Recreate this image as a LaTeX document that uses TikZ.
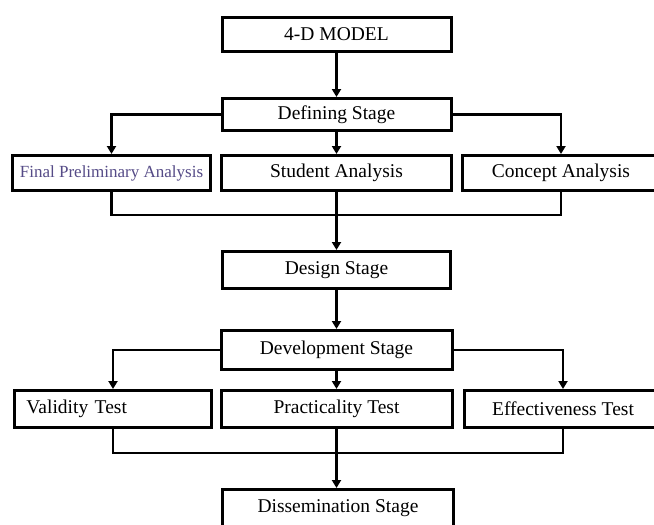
\documentclass[tikz,border=0pt]{standalone}
\usepackage{fontspec}
\setmainfont{Liberation Serif}
\usetikzlibrary{arrows.meta}
\definecolor{fpacol}{RGB}{85,75,135}
\tikzset{
  box/.style={draw=black, line width=3pt, fill=white, inner sep=0pt,
    font=\fontsize{19.5}{21}\selectfont, text=black},
  conn/.style={line width=2.6pt, draw=black},
  arr/.style={conn, -{Triangle[width=9pt,length=8pt]}},
}
\begin{document}
\begin{tikzpicture}[x=1pt,y=-1pt]
\useasboundingbox (0,0) rectangle (654,525);
\node[box, minimum width=229pt, minimum height=34pt] (model) at (336.5,34.5) {4-D MODEL};
\node[box, minimum width=229pt, minimum height=32pt] (define) at (336.5,114.5) {Defining Stage};
\node[box, minimum width=198pt, minimum height=35pt, text=fpacol,
      font=\fontsize{17}{19}\selectfont] (fpa) at (111.5,173) {Final Preliminary Analysis};
\node[box, minimum width=230pt, minimum height=35pt] (student) at (336.5,173) {Student Analysis};
\node[box, minimum width=197pt, minimum height=35pt] (concept) at (561,173) {Concept Analysis};
\node[box, minimum width=228pt, minimum height=37pt] (design) at (336.5,270) {Design Stage};
\node[box, minimum width=231pt, minimum height=39pt] (develop) at (336.5,350) {Development Stage};
\node[box, minimum width=197pt, minimum height=37pt, text width=183pt, align=left] (valid) at (113,409) {\raisebox{2pt}{\hspace*{5pt}Validity Test}};
\node[box, minimum width=231pt, minimum height=37pt] (pract) at (336.5,409) {\raisebox{-1pt}{Practicality Test}};
\node[box, minimum width=197pt, minimum height=37pt] (effect) at (563,409) {Effectiveness Test};
\node[box, minimum width=231pt, minimum height=38pt] (dissem) at (338,508.5) {\raisebox{3pt}{Dissemination Stage}};
\coordinate (j1) at (336.5,215);
\coordinate (j2) at (336.5,453);

\draw[arr] (model.south) -- (define.north);
\draw[arr] (define.west) -| (fpa.north);
\draw[arr] (define.east) -| (concept.north);
\draw[arr] (define.south) -- (student.north);
\draw[conn] (fpa.south) |- (j1) -| (concept.south);
\draw[arr] (student.south) -- (design.north);
\draw[arr] (design.south) -- (develop.north);
\draw[arr] (develop.west) -| (valid.north);
\draw[arr] (develop.east) -| (effect.north);
\draw[arr] (develop.south) -- (pract.north);
\draw[conn] (valid.south) |- (j2) -| (effect.south);
\draw[arr] (pract.south) -- (pract.south |- dissem.north);
\end{tikzpicture}
\end{document}
